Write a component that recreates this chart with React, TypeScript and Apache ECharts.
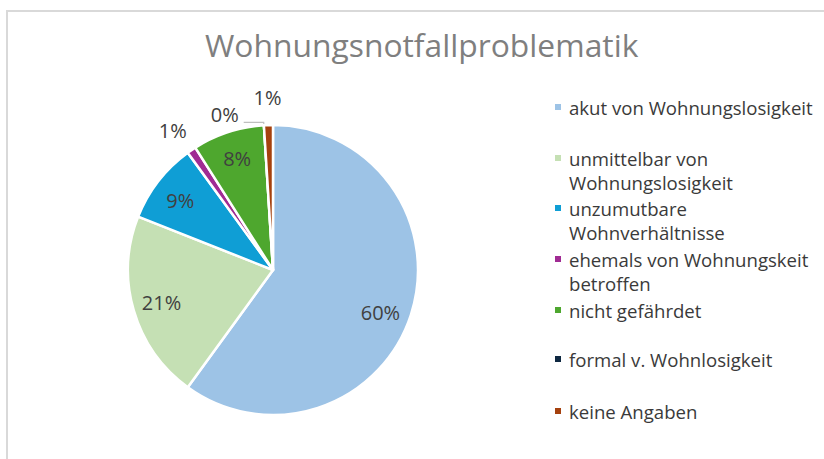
import React, { useEffect, useRef } from "react";
import * as echarts from "echarts";

const titleText = "Wohnungsnotfallproblematik";
const categories = [
  "akut von Wohnungslosigkeit",
  "unmittelbar von Wohnungslosigkeit",
  "unzumutbare Wohnverhältnisse",
  "ehemals von Wohnungskeit betroffen",
  "nicht gefährdet",
  "formal v. Wohnlosigkeit",
  "keine Angaben",
];
const legendLines = [
  ["akut von Wohnungslosigkeit"],
  ["unmittelbar von", "Wohnungslosigkeit"],
  ["unzumutbare", "Wohnverhältnisse"],
  ["ehemals von Wohnungskeit", "betroffen"],
  ["nicht gefährdet"],
  ["formal v. Wohnlosigkeit"],
  ["keine Angaben"],
];
const values = [60, 21, 9, 1, 8, 0, 1];
const colors = ["#9DC3E6", "#C5E0B4", "#0F9ED5", "#A02B93", "#4EA72E", "#0E2841", "#A5410E"];

// label placement groups (index lists)
const insideIdx = [0, 1, 2, 4];
const ringIdx = [3, 6];
const leaderIdx = [5];
const insideOffsets: Record<number, number[]> = { 0: [-3, 7], 1: [0, 0], 2: [-1, 2], 4: [0, -1] };
const ringOffsets: Record<number, number[]> = { 3: [-3, 4], 6: [0, 0] };

const FONT = "Open Sans";
const CX = 273;
const CY = 270;
const R = 145;
const legendIconY = [107, 158, 208, 259, 310, 359, 411];
const LH = 24.5;

export default function App() {
  const ref = useRef<HTMLDivElement>(null);
  useEffect(() => {
    if (!ref.current) return;
    const chart = echarts.init(ref.current, undefined, { renderer: "svg" });
    const labelStyle = { color: "#404040", fontSize: 20, fontFamily: FONT, formatter: "{d}%" };

    const baseData = categories.map((name, i) => ({
      name,
      value: values[i],
      itemStyle: { color: colors[i] },
    }));

    const mainData = baseData.map((d, i) => ({
      ...d,
      label: leaderIdx.includes(i)
        ? { show: true, position: "outside", ...labelStyle, formatter: "{d}%\n ", lineHeight: 16 }
        : { show: false },
      labelLine: leaderIdx.includes(i)
        ? { show: true, length: 3, length2: 20, lineStyle: { color: "#BFBFBF", width: 1.2 } }
        : { show: false },
    }));

    const insideData = baseData.map((d, i) => ({
      name: d.name,
      value: d.value,
      itemStyle: { color: "rgba(0,0,0,0)", borderWidth: 0 },
      label: insideIdx.includes(i)
        ? { show: true, position: "inside", offset: insideOffsets[i], ...labelStyle }
        : { show: false },
    }));

    const ringData = baseData.map((d, i) => ({
      name: d.name,
      value: d.value,
      itemStyle: { color: "rgba(0,0,0,0)", borderWidth: 0 },
      label: ringIdx.includes(i)
        ? { show: true, position: "inside", offset: ringOffsets[i], ...labelStyle }
        : { show: false },
    }));

    const legends = categories.map((name, i) => {
      const lines = legendLines[i];
      const multi = lines.length > 1;
      const top = legendIconY[i] - (multi ? 1.5 * LH : 0.5 * LH);
      return {
        orient: "vertical",
        left: 553,
        top,
        padding: 0,
        itemWidth: 8,
        itemHeight: 8,
        icon: "rect",
        selectedMode: false,
        data: [name],
        formatter: () => (multi ? "\n" + lines.join("\n") : lines[0]),
        textStyle: {
          color: "#3A3A3A",
          fontSize: 18.6,
          fontFamily: FONT,
          lineHeight: LH,
          padding: [0, 0, 0, 2],
        },
      };
    });

    chart.setOption({
      animation: false,
      backgroundColor: "#FFFFFF",
      title: {
        text: titleText,
        left: 205,
        top: 28,
        padding: 0,
        textStyle: { color: "#7F7F7F", fontSize: 31.8, fontWeight: "normal", fontFamily: FONT },
      },
      graphic: [
        {
          type: "rect",
          shape: { x: 7, y: 11, width: 900, height: 600 },
          style: { fill: "none", stroke: "#D9D9D9", lineWidth: 2 },
          silent: true,
        },
      ],
      legend: legends,
      series: [
        {
          type: "pie",
          name: "main",
          center: [CX, CY],
          radius: [0, R],
          startAngle: 90,
          clockwise: true,
          avoidLabelOverlap: false,
          itemStyle: { borderColor: "#FFFFFF", borderWidth: 2.5 },
          emphasis: { disabled: true },
          data: mainData,
        },
        {
          type: "pie",
          name: "insideLabels",
          center: [CX, CY],
          radius: [R * 0.56, R],
          startAngle: 90,
          clockwise: true,
          silent: true,
          avoidLabelOverlap: false,
          labelLine: { show: false },
          emphasis: { disabled: true },
          data: insideData,
        },
        {
          type: "pie",
          name: "ringLabels",
          center: [CX, CY],
          radius: [169, 171],
          startAngle: 90,
          clockwise: true,
          silent: true,
          avoidLabelOverlap: false,
          labelLine: { show: false },
          emphasis: { disabled: true },
          data: ringData,
        },
      ],
    });
    return () => chart.dispose();
  }, []);
  return (
    <div
      ref={ref}
      style={{ position: "fixed", left: 0, top: 0, width: 824, height: 459 }}
    />
  );
}
